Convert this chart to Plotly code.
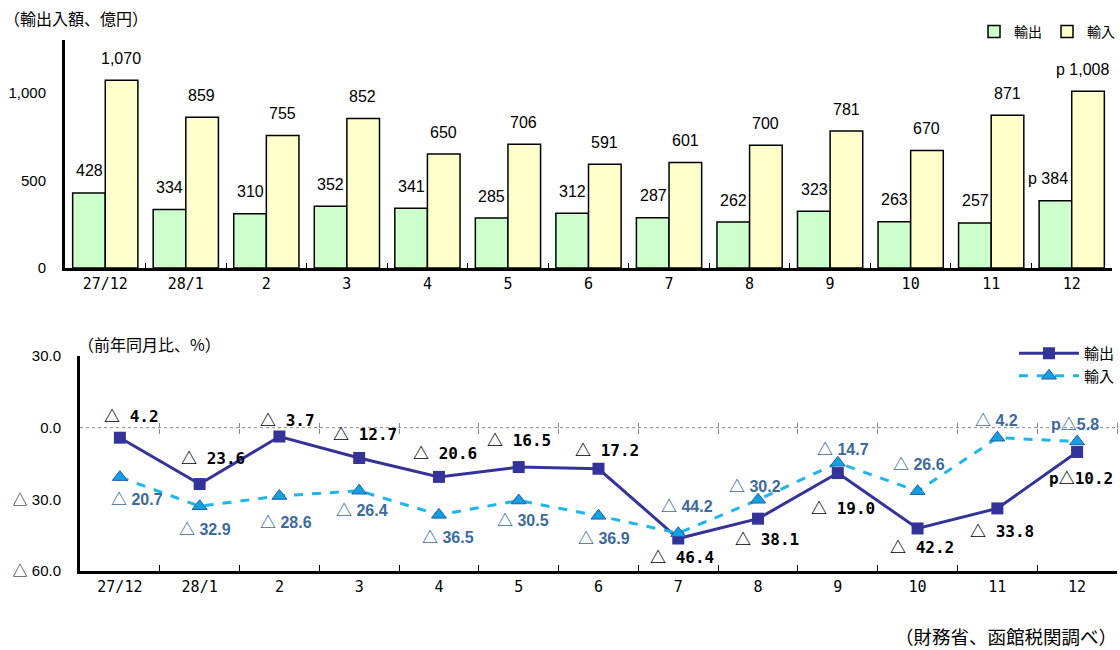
import plotly.graph_objects as go

# ---------------- data ----------------
months = ["27/12", "28/1", "2", "3", "4", "5", "6", "7", "8", "9", "10", "11", "12"]
export_amt = [428, 334, 310, 352, 341, 285, 312, 287, 262, 323, 263, 257, 384]
import_amt = [1070, 859, 755, 852, 650, 706, 591, 601, 700, 781, 670, 871, 1008]
export_yoy = [-4.2, -23.6, -3.7, -12.7, -20.6, -16.5, -17.2, -46.4, -38.1, -19.0, -42.2, -33.8, -10.2]
import_yoy = [-20.7, -32.9, -28.6, -26.4, -36.5, -30.5, -36.9, -44.2, -30.2, -14.7, -26.6, -4.2, -5.8]
provisional = [False] * 12 + [True]

amt_tickvals = [0, 500, 1000]
amt_ticktext = ["0", "500", "1,000"]
yoy_tickvals = [30, 0, -30, -60]
yoy_ticktext = ["30.0", "0.0", "△ 30.0", "△ 60.0"]

# ---------------- styles ----------------
JP = "Noto Sans CJK JP"
AR = "Liberation Sans, Arial, sans-serif"
MONO = "DejaVu Sans Mono, Noto Sans CJK JP, monospace"
GREEN = "#CCFFCC"
YELLOW = "#FFFFCC"
EXP_LINE = "#333399"
IMP_LINE = "#1EB4EC"
IMP_LABEL = "#3D6A9C"


def tri(s):
    """render the triangle sign with a full-width CJK glyph"""
    return s.replace("△", "<span style='font-family:Noto Sans CJK JP'>△</span>")


# label offsets (px) for line-chart labels: (dx, dy) where dy positive = down
exp_off = [(12, -23), (13, -27), (8, -18), (6, -25), (6, -25), (0, -28), (8, -20),
           (4, 17), (9, 19), (5, 34), (4, 18), (5, 22), (4, 25)]
imp_off = [(17, 21), (5, 22), (7, 25), (3, 18), (9, 21), (4, 18), (5, 21),
           (9, -28), (-3, -15), (5, -15), (1, -28), (-1, -19), (-2, -19)]


def amt_label(v, p):
    s = f"{v:,}"
    return ("p " + s) if p else s


def yoy_label(v, p):
    s = ("△ " + f"{abs(v):.1f}") if v < 0 else f"{v:.1f}"
    return ("p" + s.replace(" ", "")) if p else s


fig = go.Figure()

# ---------------- top bar chart ----------------
fig.add_trace(go.Bar(x=months, y=export_amt, name="輸出", marker=dict(color=GREEN, line=dict(color="black", width=1.5)),
                     xaxis="x", yaxis="y", legend="legend"))
fig.add_trace(go.Bar(x=months, y=import_amt, name="輸入", marker=dict(color=YELLOW, line=dict(color="black", width=1.5)),
                     xaxis="x", yaxis="y", legend="legend"))

annotations = []
for i, m in enumerate(months):
    p = provisional[i]
    annotations.append(dict(x=m, y=export_amt[i], xref="x", yref="y", text=amt_label(export_amt[i], p),
                            showarrow=False, xshift=-16 - (8 if p else 0), yshift=22, yanchor="middle",
                            font=dict(family=AR, size=16, color="black")))
    annotations.append(dict(x=m, y=import_amt[i], xref="x", yref="y", text=amt_label(import_amt[i], p),
                            showarrow=False, xshift=16 - (5 if p else 0), yshift=22, yanchor="middle",
                            font=dict(family=AR, size=16, color="black")))

# ---------------- bottom line chart ----------------
fig.add_trace(go.Scatter(x=months, y=export_yoy, name="輸出", mode="lines+markers",
                         line=dict(color=EXP_LINE, width=3),
                         marker=dict(symbol="square", size=12, color=EXP_LINE),
                         xaxis="x2", yaxis="y2", legend="legend2"))
fig.add_trace(go.Scatter(x=months, y=import_yoy, name="輸入", mode="lines+markers",
                         line=dict(color=IMP_LINE, width=3, dash="dash"),
                         marker=dict(symbol="triangle-up", size=13, color="#12A0E0",
                                     line=dict(color="#1F5FA8", width=1)),
                         xaxis="x2", yaxis="y2", legend="legend2"))

for i, m in enumerate(months):
    p = provisional[i]
    dx, dy = exp_off[i]
    annotations.append(dict(x=m, y=export_yoy[i], xref="x2", yref="y2", text=tri(yoy_label(export_yoy[i], p)),
                            showarrow=False, xshift=dx, yshift=-dy, xanchor="center", yanchor="middle",
                            font=dict(family=MONO, size=16, color="black", weight="bold")))
    dx, dy = imp_off[i]
    annotations.append(dict(x=m, y=import_yoy[i], xref="x2", yref="y2", text=tri(yoy_label(import_yoy[i], p)),
                            showarrow=False, xshift=dx, yshift=-dy, xanchor="center", yanchor="middle",
                            font=dict(family=AR, size=16, color=IMP_LABEL, weight="bold")))

# titles / notes
annotations += [
    dict(x=2 / 1120, y=1 - 18 / 650, xref="paper", yref="paper", text="（輸出入額、億円）", showarrow=False,
         xanchor="left", yanchor="middle", font=dict(family=JP, size=16, color="black")),
    dict(x=76 / 1120, y=1 - 344 / 650, xref="paper", yref="paper", text="（前年同月比、%）", showarrow=False,
         xanchor="left", yanchor="middle", font=dict(family=JP, size=16, color="black")),
    dict(x=1119 / 1120, y=1 - 636 / 650, xref="paper", yref="paper", text="（財務省、函館税関調べ）", showarrow=False,
         xanchor="right", yanchor="middle", font=dict(family=JP, size=18.5, color="black")),
]

# domains
top_x = [65 / 1120, 1112 / 1120]
top_y = [1 - 268 / 650, 1 - 40 / 650]
bot_x = [80 / 1120, 1117 / 1120]
bot_y = [1 - 571 / 650, 1 - 356 / 650]
yoy_range = [-60, 30]
zero_pos = bot_y[0] + (0 - yoy_range[0]) / (yoy_range[1] - yoy_range[0]) * (bot_y[1] - bot_y[0])

fig.update_layout(
    width=1120, height=650,
    margin=dict(l=0, r=0, t=0, b=0, autoexpand=False),
    paper_bgcolor="white", plot_bgcolor="white",
    barmode="group", bargap=0.19, bargroupgap=0,
    font=dict(family=AR, size=15, color="black"),
    xaxis=dict(domain=top_x, anchor="y", type="category", showline=True, linecolor="black", linewidth=3,
               ticks="inside", tickson="boundaries", ticklen=5, tickcolor="black", tickwidth=1,
               tickfont=dict(family=MONO, size=15), showgrid=False, range=[-0.5, 12.5]),
    yaxis=dict(domain=top_y, anchor="x", range=[0, 1300], showline=True, linecolor="black", linewidth=3,
               tickvals=amt_tickvals, ticktext=amt_ticktext, ticks="", ticklabelstandoff=13,
               showgrid=False, zeroline=False, tickfont=dict(family=AR, size=15)),
    xaxis2=dict(domain=bot_x, anchor="y2", type="category", showline=True, linecolor="black", linewidth=3,
                ticks="inside", tickson="boundaries", ticklen=6, tickcolor="black", tickwidth=1,
                tickfont=dict(family=MONO, size=15), showgrid=False, range=[-0.5, 12.5]),
    yaxis2=dict(domain=bot_y, anchor="x2", range=yoy_range, showline=True, linecolor="black", linewidth=3,
                tickvals=yoy_tickvals, ticktext=[tri(t) for t in yoy_ticktext], ticks="", ticklabelstandoff=13,
                showgrid=False, zeroline=False, tickfont=dict(family=AR, size=15)),
    xaxis3=dict(overlaying="x2", anchor="free", position=zero_pos, range=[-0.5, 12.5],
                tickvals=[i + 0.5 for i in range(len(months))], ticks="outside", ticklen=5,
                tickcolor="#888888", tickwidth=1, showticklabels=False, showline=False, showgrid=False,
                zeroline=False),
    xaxis4=dict(overlaying="x2", anchor="free", position=zero_pos, range=[-0.5, 12.5], side="top",
                tickvals=[i + 0.5 for i in range(len(months))], ticks="outside", ticklen=5,
                tickcolor="#888888", tickwidth=1, showticklabels=False, showline=False, showgrid=False,
                zeroline=False),
    shapes=[dict(type="line", xref="x2 domain", yref="y2", x0=0, x1=1, y0=0, y1=0,
                 line=dict(color="#888888", width=1, dash="dot"), layer="below")],
    legend=dict(orientation="h", x=1.0, xanchor="right", y=1 - 32 / 650, yanchor="middle",
                font=dict(family=JP, size=14), bgcolor="rgba(0,0,0,0)", itemwidth=30, traceorder="normal"),
    legend2=dict(orientation="v", x=1.0, xanchor="right", y=1 - 337 / 650, yanchor="top",
                 font=dict(family=JP, size=15), bgcolor="rgba(0,0,0,0)", itemwidth=60, tracegroupgap=2),
    annotations=annotations,
    showlegend=True,
)

# invisible traces so overlay axes are drawn
fig.add_trace(go.Scatter(x=[-0.5, 12.5], y=[0, 0], mode="markers", marker=dict(opacity=0), xaxis="x3", yaxis="y2",
                         showlegend=False, hoverinfo="skip"))
fig.add_trace(go.Scatter(x=[-0.5, 12.5], y=[0, 0], mode="markers", marker=dict(opacity=0), xaxis="x4", yaxis="y2",
                         showlegend=False, hoverinfo="skip"))

fig.write_html("out.html", config={"displayModeBar": False},
               post_script="document.body.style.margin='0';")
